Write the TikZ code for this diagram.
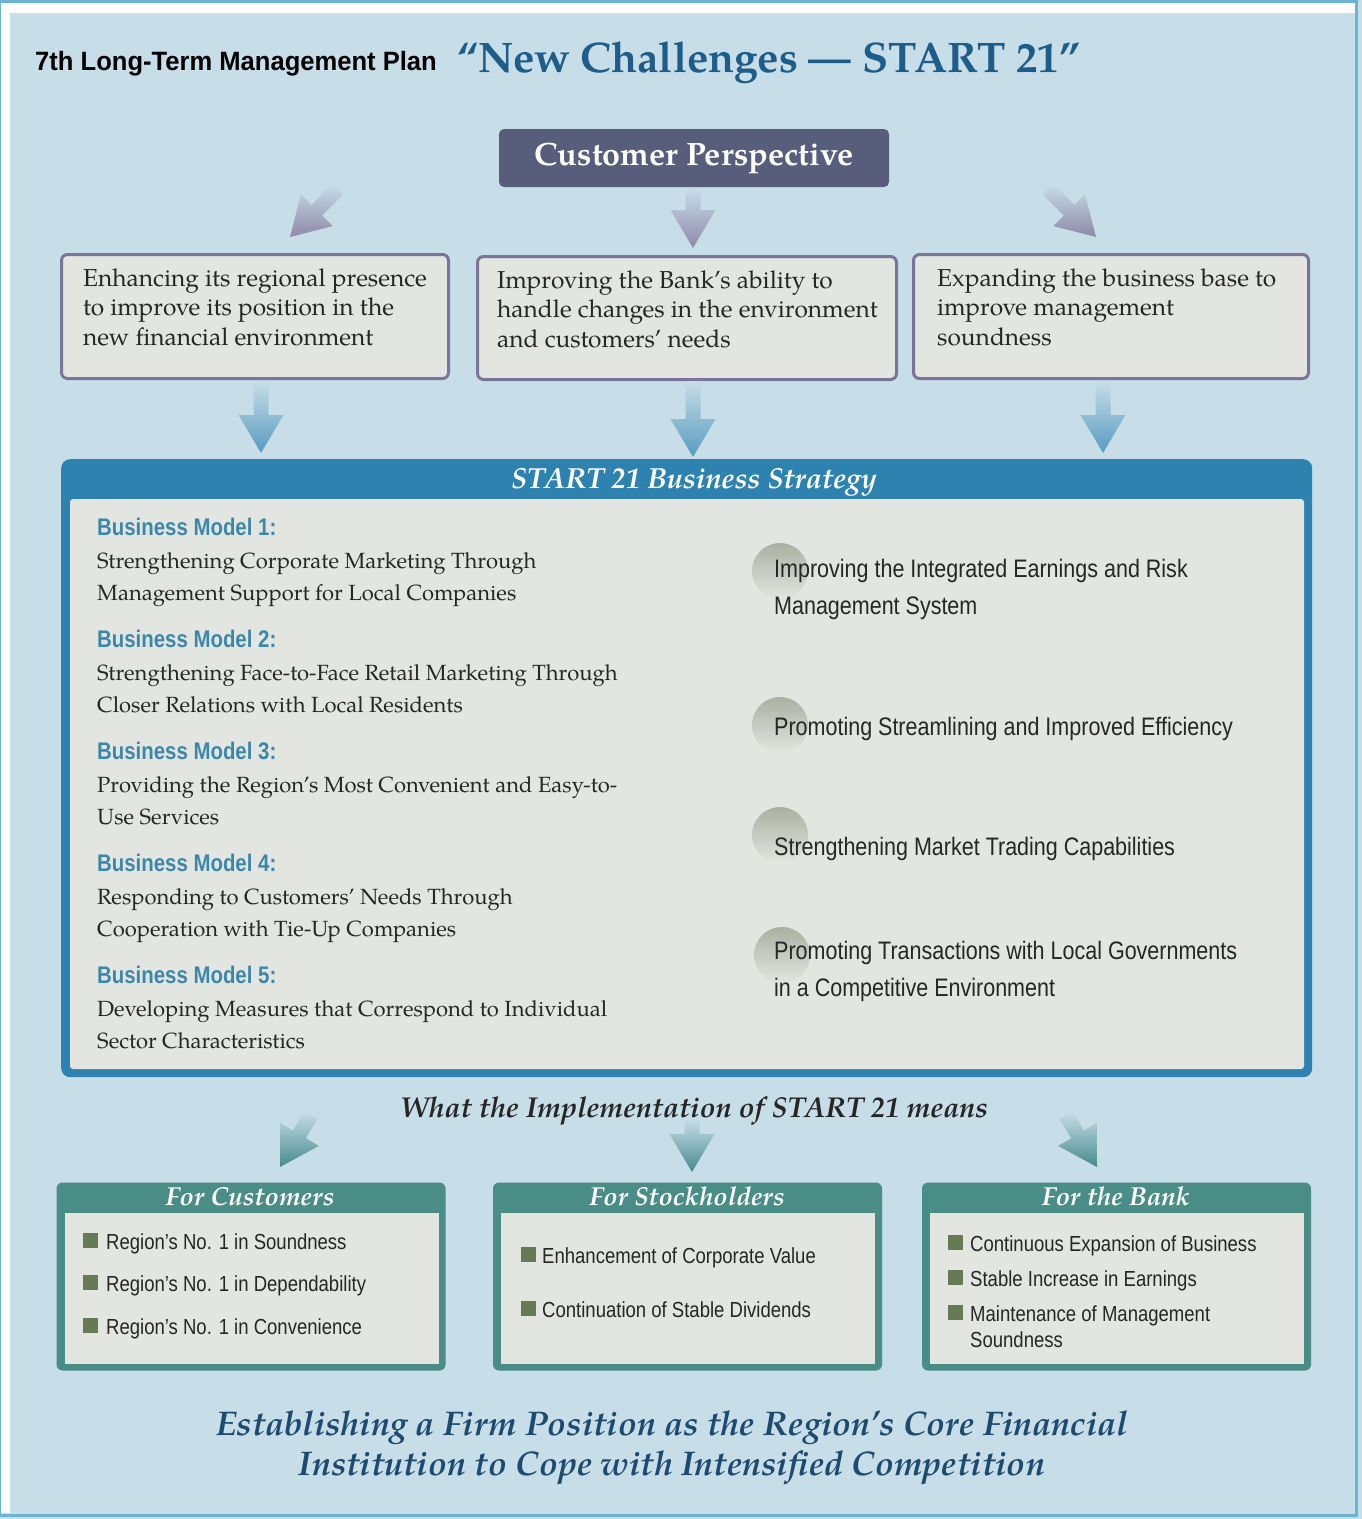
\documentclass[tikz,border=0pt]{standalone}
\usepackage{fontspec}
\usetikzlibrary{positioning,calc,shapes}
\newfontfamily\pal{texgyrepagella}[Extension=.otf,UprightFont=*-regular,BoldFont=*-bold,ItalicFont=*-italic,BoldItalicFont=*-bolditalic]
\newfontfamily\cond{Liberation Sans}[FakeStretch=0.85]
\newfontfamily\headsans{Liberation Sans}[FakeStretch=0.965]
\definecolor{bgblue}{HTML}{C7DDE8}
\definecolor{frameblue}{HTML}{6AB4CF}
\definecolor{cpfill}{HTML}{575D7B}
\definecolor{boxfill}{HTML}{E3E5E0}
\definecolor{boxline}{HTML}{7B7499}
\definecolor{stratblue}{HTML}{2E82B0}
\definecolor{bmtitle}{HTML}{3B88AB}
\definecolor{teal}{HTML}{4A8C86}
\definecolor{bullet}{HTML}{667A56}
\definecolor{titleblue}{HTML}{1E5D8A}
\definecolor{bottomblue}{HTML}{1D4A6E}
\definecolor{dotgrey}{HTML}{ABB0A2}
\definecolor{txt}{HTML}{262626}
% lines of text, baseline at the first one
\newcommand\lines[1]{\begin{tabular}[t]{@{}l@{}}#1\end{tabular}}
\newcommand\clines[1]{\begin{tabular}[t]{@{}c@{}}#1\end{tabular}}
% fat shaded arrow from #1 to #2, colours #3 (tail) and #4 (head)
\newcommand\fatarrow[4]{%
  \path (#1); \pgfgetlastxy{\fax}{\fay}
  \path (#2); \pgfgetlastxy{\fbx}{\fby}
  \pgfmathsetmacro\faang{atan2(\fby-\fay,\fbx-\fax)+90}
  \coordinate (hb) at ($(#2)!38pt!(#1)$);
  \shade[shading angle=\faang, top color=#3, bottom color=#4]
    ($(#1)!7.5pt!90:(#2)$) -- ($(hb)!7.5pt!90:(#2)$) -- ($(hb)!22.5pt!90:(#2)$)
    -- (#2) -- ($(hb)!22.5pt!-90:(#2)$) -- ($(hb)!7.5pt!-90:(#2)$)
    -- ($(#1)!7.5pt!-90:(#2)$) -- cycle;}
\begin{document}
\begin{tikzpicture}[x=1pt,y=-1pt,
    topbox/.style={draw=boxline, line width=3pt, fill=boxfill, rounded corners=6pt,
      anchor=north west, inner sep=0pt},
    toptext/.style={anchor=base west, text=txt, inner sep=0pt,
      font=\pal\fontsize{24.5}{29.5}\selectfont},
    bmhead/.style={anchor=base west, text=bmtitle, inner sep=0pt,
      font=\cond\bfseries\fontsize{24}{28}\selectfont},
    bmbody/.style={anchor=base west, text=txt, inner sep=0pt,
      font=\pal\fontsize{22}{32}\selectfont},
    aim/.style={anchor=base west, text=txt, inner sep=0pt,
      font=\cond\fontsize{25.3}{37}\selectfont},
    dot/.style={circle, minimum size=56pt, inner sep=0pt,
      shading angle=-45, top color=dotgrey, bottom color=boxfill},
    grpbox/.style={fill=teal, rounded corners=6pt, inner sep=0pt,
      minimum width=389pt, minimum height=188pt},
    grphead/.style={text=white, inner sep=0pt, anchor=base,
      font=\pal\bfseries\itshape\fontsize{26}{30}\selectfont},
    bul/.style={fill=bullet, minimum size=15pt, inner sep=0pt, anchor=north west},
    item/.style={anchor=base west, text=txt, inner sep=0pt,
      font=\cond\fontsize{21.8}{26}\selectfont}]
  \useasboundingbox (0,0) rectangle (1362,1519);
  % frame and background
  \fill[bgblue] (0,0) rectangle (1362,1519);
  \fill[white] (0,3) rectangle (1356,13);
  \fill[white] (0,3) rectangle (10,1513);
  \draw[frameblue, line width=3pt] (0,1.5) -- (1356.5,1.5) -- (1356.5,1515.5) -- (0,1515.5);
  \draw[frameblue, line width=1pt] (0.5,1.5) -- (0.5,1515.5);

  % heading
  \node[anchor=base west, inner sep=0pt, font=\headsans\bfseries\fontsize{26.5}{30}\selectfont]
    (plan) at (35,70) {7th Long-Term Management Plan};
  \node[anchor=base west, inner sep=0pt, text=titleblue,
    font=\pal\bfseries\fontsize{42.7}{50}\selectfont] (title) at (457,72)
    {“New Challenges — START 21”};

  \node[fill=cpfill, rounded corners=5pt, minimum width=390pt, minimum height=58pt,
    text=white, font=\pal\bfseries\fontsize{32.3}{36}\selectfont] (cp) at (694,158)
    {Customer Perspective};

  % aims
  \node[topbox, minimum width=387pt, minimum height=124pt] (aim1) at (60,253) {};
  \node[topbox, minimum width=419pt, minimum height=123pt] (aim2) at (476,255) {};
  \node[topbox, minimum width=395pt, minimum height=124pt] (aim3) at (912,253) {};
  \node[toptext] (aim1t) at (83,286)
    {\lines{Enhancing its regional presence\\to improve its position in the\\new financial environment}};
  \node[toptext] (aim2t) at (497,288)
    {\lines{Improving the Bank’s ability to\\handle changes in the environment\\and customers’ needs}};
  \node[toptext] (aim3t) at (937,286)
    {\lines{Expanding the business base to\\improve management\\soundness}};

  \coordinate (p1a) at (338,189);  \coordinate (p1b) at (290,237);
  \coordinate (p2a) at (693,188);  \coordinate (p2b) at (693,248);
  \coordinate (p3a) at (1048,189); \coordinate (p3b) at (1096,237);
  \fatarrow{p1a}{p1b}{bgblue}{boxline!85!white}
  \fatarrow{p2a}{p2b}{bgblue}{boxline!85!white}
  \fatarrow{p3a}{p3b}{bgblue}{boxline!85!white}

  \coordinate (b1a) at (261,381);  \coordinate (b1b) at (261,453);
  \coordinate (b2a) at (693,381);  \coordinate (b2b) at (693,457);
  \coordinate (b3a) at (1103,381); \coordinate (b3b) at (1103,453);
  \fatarrow{b1a}{b1b}{bgblue}{stratblue!80!white}
  \fatarrow{b2a}{b2b}{bgblue}{stratblue!80!white}
  \fatarrow{b3a}{b3b}{bgblue}{stratblue!80!white}

  % business strategy
  \node[fill=stratblue, rounded corners=9pt, minimum width=1251pt, minimum height=618pt,
    inner sep=0pt, anchor=north west] (strat) at (61,459) {};
  \fill[boxfill, rounded corners=3pt] (70,499) rectangle (1304,1069);
  \node[text=white, inner sep=0pt, anchor=base, font=\pal\bfseries\itshape\fontsize{29}{32}\selectfont]
    (strathead) at (694,488) {START 21 Business Strategy};

  \node[bmhead] (bm1) at (97,535) {Business Model 1:};
  \node[bmbody] (bm1t) at (97,568) {\lines{Strengthening Corporate Marketing Through\\Management Support for Local Companies}};
  \node[bmhead] (bm2) at (97,647) {Business Model 2:};
  \node[bmbody] (bm2t) at (97,680) {\lines{Strengthening Face-to-Face Retail Marketing Through\\Closer Relations with Local Residents}};
  \node[bmhead] (bm3) at (97,759) {Business Model 3:};
  \node[bmbody] (bm3t) at (97,792) {\lines{Providing the Region’s Most Convenient and Easy-to-\\Use Services}};
  \node[bmhead] (bm4) at (97,871) {Business Model 4:};
  \node[bmbody] (bm4t) at (97,904) {\lines{Responding to Customers’ Needs Through\\Cooperation with Tie-Up Companies}};
  \node[bmhead] (bm5) at (97,983) {Business Model 5:};
  \node[bmbody] (bm5t) at (97,1016) {\lines{Developing Measures that Correspond to Individual\\Sector Characteristics}};

  \node[dot] (d1) at (780,571) {};
  \node[dot] (d2) at (780,725) {};
  \node[dot] (d3) at (780,835) {};
  \node[dot] (d4) at (782,955) {};
  \node[aim] (a1) at (774,577) {\lines{Improving the Integrated Earnings and Risk\\Management System}};
  \node[aim] (a2) at (774,735) {Promoting Streamlining and Improved Efficiency};
  \node[aim] (a3) at (774,855) {Strengthening Market Trading Capabilities};
  \node[aim] (a4) at (774,959) {\lines{Promoting Transactions with Local Governments\\in a Competitive Environment}};

  % implementation
  \node[anchor=base, inner sep=0pt, text=txt, font=\pal\bfseries\itshape\fontsize{28.7}{32}\selectfont]
    (means) at (694,1117) {What the Implementation of START 21 means};

  \coordinate (t1a) at (311,1115);  \coordinate (t1b) at (280,1167);
  \coordinate (t2a) at (692,1119);  \coordinate (t2b) at (692,1172);
  \coordinate (t3a) at (1066,1115); \coordinate (t3b) at (1097,1167);
  \fatarrow{t1a}{t1b}{bgblue}{teal!85!stratblue}
  \fatarrow{t2a}{t2b}{bgblue}{teal!85!stratblue}
  \fatarrow{t3a}{t3b}{bgblue}{teal!85!stratblue}

  \node[grpbox] (cust) at (251,1276.5) {};
  \node[grpbox] (stock) at (687.5,1276.5) {};
  \node[grpbox] (bank) at (1116.5,1276.5) {};
  \fill[boxfill] (65,1213) rectangle (439,1364);
  \fill[boxfill] (501,1213) rectangle (875,1364);
  \fill[boxfill] (930,1213) rectangle (1304,1364);
  \node[grphead] (custh) at (250,1205) {For Customers};
  \node[grphead] (stockh) at (687,1205) {For Stockholders};
  \node[grphead] (bankh) at (1116,1205) {For the Bank};

  \node[bul] at (83,1233) {};  \node[item] (c1) at (106,1249) {Region’s No. 1 in Soundness};
  \node[bul] at (83,1275) {};  \node[item] (c2) at (106,1291) {Region’s No. 1 in Dependability};
  \node[bul] at (83,1318) {};  \node[item] (c3) at (106,1334) {Region’s No. 1 in Convenience};
  \node[bul] at (521,1247) {}; \node[item] (s1) at (542,1263) {Enhancement of Corporate Value};
  \node[bul] at (521,1301) {}; \node[item] (s2) at (542,1317) {Continuation of Stable Dividends};
  \node[bul] at (948,1235) {}; \node[item] (k1) at (970,1251) {Continuous Expansion of Business};
  \node[bul] at (948,1270) {}; \node[item] (k2) at (970,1286) {Stable Increase in Earnings};
  \node[bul] at (948,1305) {}; \node[item] (k3) at (970,1321) {\lines{Maintenance of Management\\Soundness}};

  % conclusion
  \node[text=bottomblue, inner sep=0pt, anchor=base,
    font=\pal\bfseries\itshape\fontsize{34.2}{40}\selectfont] (goal) at (672,1435)
    {\clines{Establishing a Firm Position as the Region’s Core Financial\\Institution to Cope with Intensified Competition}};
\end{tikzpicture}
\end{document}
